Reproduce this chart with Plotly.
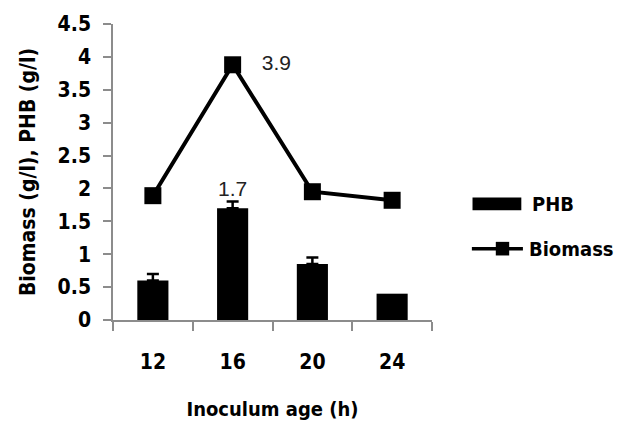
import plotly.graph_objects as go

categories = ["12", "16", "20", "24"]
phb = [0.6, 1.7, 0.85, 0.4]
phb_err = [0.1, 0.1, 0.1, None]
biomass = [1.89, 3.88, 1.95, 1.82]
phb_labels = ["", "1.7", "", ""]
biomass_labels = ["", "3.9", "", ""]
yticks = [0, 0.5, 1, 1.5, 2, 2.5, 3, 3.5, 4, 4.5]
ytick_labels = ["0", "0.5", "1", "1.5", "2", "2.5", "3", "3.5", "4", "4.5"]

NARROW = "DejaVu Sans Condensed, Liberation Sans Narrow, Arial Narrow, Arial"
REG = "Liberation Sans, Arial"
AXC = "#8c8c8c"

fig = go.Figure()
fig.add_trace(go.Bar(
    x=categories, y=phb, name="PHB", marker=dict(color="black", line=dict(width=0)),
    width=0.39, showlegend=False,
))
# error bars only where a value exists
err_pts = [(c, v, e) for c, v, e in zip(categories, phb, phb_err) if e is not None]
fig.add_trace(go.Scatter(
    x=[p[0] for p in err_pts], y=[p[1] for p in err_pts], mode="markers",
    marker=dict(size=1, opacity=0),
    error_y=dict(type="data", array=[p[2] for p in err_pts], symmetric=False,
                 arrayminus=[0] * len(err_pts), visible=True, color="black", thickness=2.5, width=6),
    showlegend=False, hoverinfo="skip",
))
fig.add_trace(go.Scatter(
    x=categories, y=biomass, name="Biomass", mode="lines+markers",
    line=dict(color="black", width=4),
    marker=dict(symbol="square", size=17, color="black"),
    showlegend=False,
))
# data labels
fig.add_trace(go.Scatter(
    x=categories, y=[p + (e or 0) for p, e in zip(phb, phb_err)], mode="text", text=phb_labels,
    textposition="top center", textfont=dict(family=REG, size=21, color="#222"),
    showlegend=False, hoverinfo="skip",
))
fig.add_trace(go.Scatter(
    x=categories, y=biomass, mode="text", text=["     " + t if t else "" for t in biomass_labels],
    textposition="middle right", textfont=dict(family=REG, size=21, color="#222"),
    showlegend=False, hoverinfo="skip",
))

# custom legend
fig.add_shape(type="rect", xref="paper", yref="paper", x0=1.127, x1=1.28, y0=0.414, y1=0.371,
              fillcolor="black", line=dict(width=0))
fig.add_annotation(xref="paper", yref="paper", x=1.307, y=0.393, text="<b>PHB</b>", showarrow=False,
                   xanchor="left", yanchor="middle", font=dict(family=NARROW, size=20, color="black"))
fig.add_shape(type="line", xref="paper", yref="paper", x0=1.125, x1=1.285, y0=0.241, y1=0.241,
              line=dict(color="black", width=3.5))
fig.add_shape(type="rect", xref="paper", yref="paper", x0=1.2, x1=1.242, y0=0.264, y1=0.218,
              fillcolor="black", line=dict(width=0))
fig.add_annotation(xref="paper", yref="paper", x=1.298, y=0.241, text="<b>Biomass</b>", showarrow=False,
                   xanchor="left", yanchor="middle", font=dict(family=NARROW, size=20, color="black"))

fig.update_layout(
    width=626, height=429,
    margin=dict(l=113, r=194, t=21, b=105),
    paper_bgcolor="white", plot_bgcolor="white",
    xaxis=dict(
        type="category", range=[-0.5, 3.5], showline=True, linecolor=AXC, linewidth=1.5,
        ticks="outside", tickson="boundaries", ticklen=9, tickcolor=AXC, tickwidth=1.5,
        showgrid=False, zeroline=False, tickangle=0,
        tickfont=dict(family=NARROW, size=21, color="black"),
        ticktext=[f"<b>{c}</b>" for c in categories], tickvals=categories,
        title=dict(text="<b>Inoculum age (h)</b>", font=dict(family=NARROW, size=20, color="black"), standoff=29),
        ticklabelstandoff=22,
    ),
    yaxis=dict(
        range=[0, 4.5], tickvals=yticks, ticktext=[f"<b>{t}</b>" for t in ytick_labels],
        showline=True, linecolor=AXC, linewidth=1.5,
        ticks="outside", ticklen=8, tickcolor=AXC, tickwidth=1.5,
        showgrid=False, zeroline=False,
        tickfont=dict(family=NARROW, size=21, color="black"),
        ticklabelstandoff=8,
        title=dict(text="<b>Biomass (g/l), PHB (g/l)</b>", font=dict(family=NARROW, size=21, color="black"), standoff=16),
    ),
)

fig.write_html("out.html", config={"displayModeBar": False},
               post_script="document.body.style.margin='0';")
